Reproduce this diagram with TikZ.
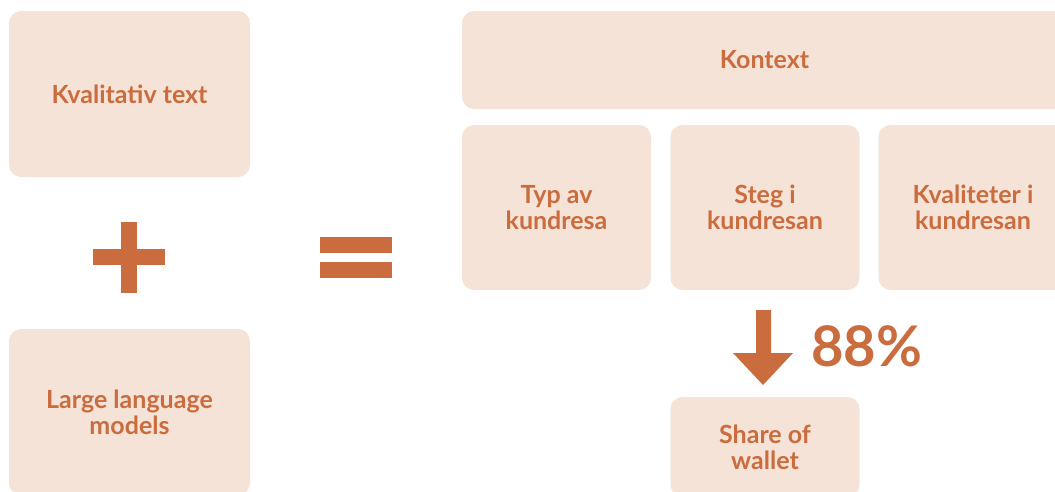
\documentclass[tikz,border=0pt]{standalone}
\usepackage{fontspec}
\setmainfont{Lato}
\definecolor{peach}{RGB}{245,227,215}
\definecolor{rust}{RGB}{202,108,61}
\tikzset{
  box/.style={fill=peach, rounded corners=12pt, text=rust, font=\bfseries\fontsize{25}{26}\selectfont, align=center, inner sep=0pt},
  bar/.style={fill=rust}
}
\begin{document}
\begin{tikzpicture}[x=1pt, y=-1pt]
\useasboundingbox (0,0) rectangle (1055,491);
\clip (0,0) rectangle (1055,491);

\node[box, minimum width=241pt, minimum height=166pt] (kval) at (129.5,94) {Kvalitativ text};
\node[box, minimum width=241pt, minimum height=166pt] (llm) at (129.5,412) {Large language\\models};

\node[box, minimum width=605pt, minimum height=98pt] (kontext) at (764.5,60) {Kontext};
\node[box, minimum width=189pt, minimum height=165pt] (typ) at (556.5,207.5) {Typ av\\kundresa};
\node[box, minimum width=189pt, minimum height=165pt] (steg) at (765,207.5) {Steg i\\kundresan};
\node[box, minimum width=189pt, minimum height=165pt] (kvalitet) at (973,207.5) {Kvaliteter i\\kundresan};
\node[box, minimum width=189pt, minimum height=100pt] (share) at (765,447) {Share of\\wallet};

% plus
\fill[bar] (93,249) rectangle (165,265);
\fill[bar] (121,222) rectangle (137,293);

% equals
\fill[bar] (320,237) rectangle (392,253);
\fill[bar] (320,262) rectangle (392,278);

% arrow
\fill[bar] (756,310) -- (771,310) -- (771,353) -- (793,353) -- (763,385) -- (733,353) -- (756,353) -- cycle;
\node[anchor=west, text=rust, font=\bfseries\fontsize{56}{60}\selectfont, inner sep=0pt] (pct) at (811,346) {88\%};

\end{tikzpicture}
\end{document}
